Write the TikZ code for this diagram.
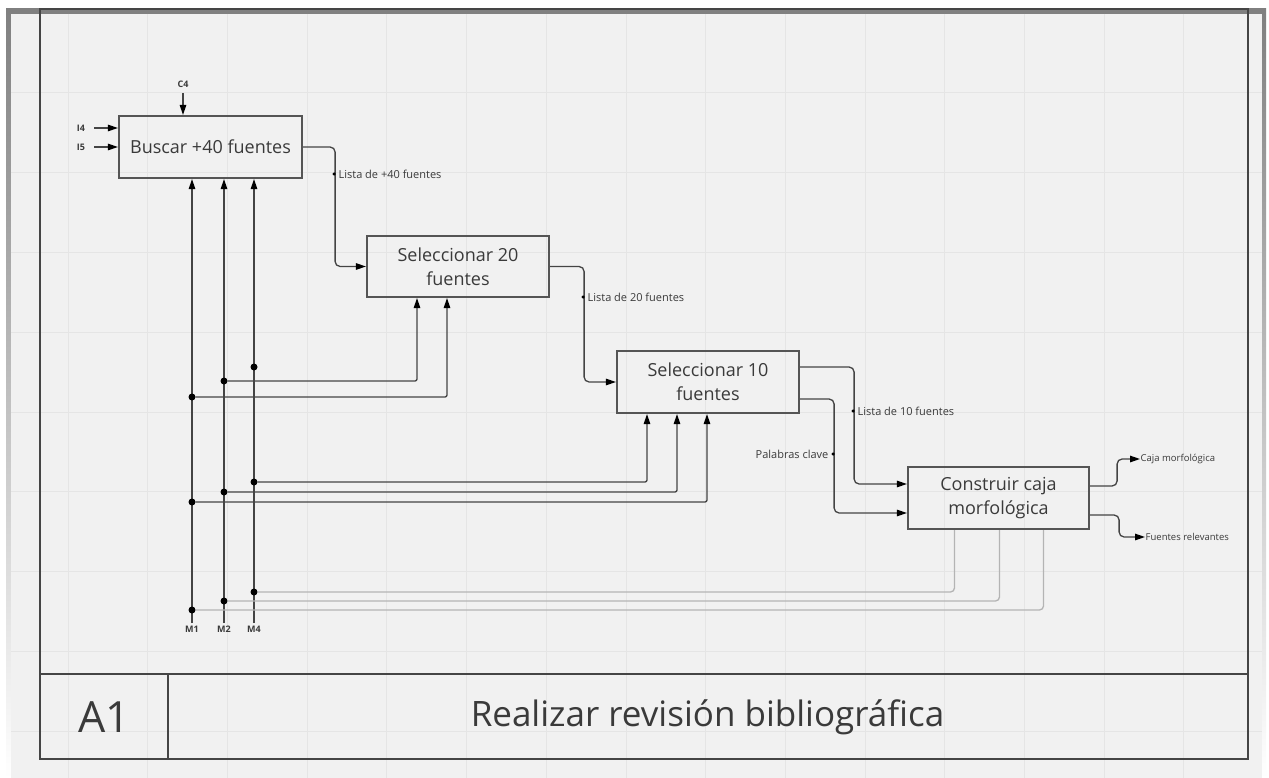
\documentclass[tikz,border=0pt]{standalone}
\usepackage{fontspec}
\setmainfont{Open Sans}
\usetikzlibrary{arrows.meta}

\definecolor{pagebg}{HTML}{F1F1F1}
\definecolor{shade}{HTML}{ECECEC}
\definecolor{gridc}{HTML}{E5E5E5}
\definecolor{framec}{HTML}{454545}
\definecolor{boxc}{HTML}{555555}
\definecolor{ink}{HTML}{444444}
\definecolor{softink}{HTML}{B4B4B4}
\definecolor{txt}{HTML}{3A3A3A}

\tikzset{
  box/.style={draw=boxc, line width=2.2pt, align=center, inner sep=0pt,
    font=\fontsize{18}{24}\selectfont, text=txt},
  tip/.style={-{Triangle[length=10pt,width=6.5pt,color=black]}},
  conn/.style={draw=ink, line width=1.3pt, rounded corners=5pt},
  arr/.style={conn, tip},
  feed/.style={draw=ink, line width=1.3pt, rounded corners=2pt, tip},
  softline/.style={draw=softink, line width=1.3pt, rounded corners=4pt},
  jdot/.style={circle, fill=black, inner sep=0pt, minimum size=7pt},
  ldot/.style={circle, fill=black, inner sep=0pt, minimum size=3.5pt},
  lbl/.style={font=\fontsize{11}{13}\selectfont, text=txt, inner sep=0.5pt},
  outlbl/.style={font=\fontsize{9.5}{11}\selectfont, text=txt, inner sep=0.5pt},
  tag/.style={font=\fontsize{9}{10}\selectfont\bfseries, text=txt, inner sep=0pt},
  gridline/.style={draw=gridc, line width=0.8pt},
  framel/.style={draw=framec, line width=2pt},
}

\begin{document}
\begin{tikzpicture}[x=1pt,y=-1pt]
\useasboundingbox (0,0) rectangle (1269,778);

% sheet with its shadow
\fill[white] (0,0) rectangle (1269,778);
\fill[shade] (6,9) rectangle (1266,778);
\fill[pagebg] (11,14) rectangle (1262,778);

% background grid
\foreach \i in {0,...,14}
  \draw[gridline] ({68+79.7*\i},14) -- ++(0,764);
\foreach \j in {1,...,9}
  \draw[gridline] (11,{13+79.8*\j}) -- ++(1251,0);

% drawing frame and title block
\draw[framel] (39.5,9) rectangle (1248,759);
\draw[framel, line width=2.6pt] (39.5,674) -- (1248,674);
\draw[draw=framec, line width=1.3pt] (168,674) -- (168,759);
\node[font=\fontsize{43}{45}\selectfont, text=txt] (a1) at (104,717) {A1};
\node[font=\fontsize{35}{40}\selectfont, text=txt] (title) at (707.5,717) {Realizar revisión bibliográfica};

% activities
\node[box, minimum width=183pt, minimum height=62pt] (b1) at (210.5,147) {Buscar +40 fuentes};
\node[box, minimum width=182pt, minimum height=61pt] (b2) at (458,266.5) {Seleccionar 20\\fuentes};
\node[box, minimum width=182pt, minimum height=62pt] (b3) at (708,382) {Seleccionar 10\\fuentes};
\node[box, minimum width=181pt, minimum height=62pt] (b4) at (998.5,498) {Construir caja\\morfológica};

% control and inputs of the first activity
\coordinate (c4) at (183,93);
\node[tag, anchor=south] (c4l) at (183,88) {C4};
\draw[arr] (c4) -- (c4 |- b1.north);
\coordinate (i4) at (94,128);
\coordinate (i5) at (94,147);
\node[tag] (i4l) at (81,128) {I4};
\node[tag] (i5l) at (81,147) {I5};
\draw[arr] (i4) -- (i4 -| b1.west);
\draw[arr] (i5) -- (i5 -| b1.west);

% flow between activities
\draw[arr] (b1.east) -- ++(32,0) |- (b2.west);
\node[ldot] (d1) at (334,174) {};
\node[lbl, anchor=west] (l1) at ([xshift=2pt]d1.east) {Lista de +40 fuentes};

\draw[arr] (b2.east) -- ++(34,0) |- (b3.west);
\node[ldot] (d2) at (583,297) {};
\node[lbl, anchor=west] (l2) at ([xshift=2pt]d2.east) {Lista de 20 fuentes};

\draw[arr] ([yshift=15pt]b3.east) -- ++(54,0) |- ([yshift=14pt]b4.west);
\node[ldot] (d3) at (853,411) {};
\node[lbl, anchor=west] (l3) at ([xshift=2pt]d3.east) {Lista de 10 fuentes};

\draw[arr] ([yshift=-17pt]b3.east) -- ++(34,0) |- ([yshift=-15pt]b4.west);
\node[ldot] (d4) at (833,454) {};
\node[lbl, anchor=east] (l4) at ([xshift=-2pt]d4.west) {Palabras clave};

% outputs
\coordinate (o1) at (1140,459);
\coordinate (o2) at (1145,537);
\draw[arr] ([yshift=12pt]b4.east) -- ++(27,0) |- (o1);
\draw[arr] ([yshift=-17pt]b4.east) -- ++(29,0) |- (o2);
\node[outlbl, anchor=west] (ol1) at (o1) {Caja morfológica};
\node[outlbl, anchor=west] (ol2) at (o2) {Fuentes relevantes};

% mechanisms
\coordinate (m1) at (192,623);
\coordinate (m2) at (224,623);
\coordinate (m4) at (254,623);
\node[tag, anchor=north] (m1l) at ([yshift=-3pt]m1) {M1};
\node[tag, anchor=north] (m2l) at ([yshift=-3pt]m2) {M2};
\node[tag, anchor=north] (m4l) at ([yshift=-3pt]m4) {M4};
\draw[arr] (m1) -- (m1 |- b1.south);
\draw[arr] (m2) -- (m2 |- b1.south);
\draw[arr] (m4) -- (m4 |- b1.south);

% branches to the second activity
\node[jdot] (j24) at (254,367) {};
\node[jdot] (j22) at (224,381) {};
\node[jdot] (j21) at (192,397) {};
\draw[feed] (j22) -| ([xshift=-41pt]b2.south);
\draw[feed] (j21) -| ([xshift=-11pt]b2.south);

% branches to the third activity
\node[jdot] (j34) at (254,482) {};
\node[jdot] (j32) at (224,492) {};
\node[jdot] (j31) at (192,502) {};
\draw[feed] (j34) -| ([xshift=-61pt]b3.south);
\draw[feed] (j32) -| ([xshift=-31pt]b3.south);
\draw[feed] (j31) -| ([xshift=-1pt]b3.south);

% branches to the fourth activity
\node[jdot] (j44) at (254,592) {};
\node[jdot] (j42) at (224,601) {};
\node[jdot] (j41) at (192,610) {};
\draw[softline] (j44) -| ([xshift=-44pt]b4.south);
\draw[softline] (j42) -| ([xshift=1pt]b4.south);
\draw[softline] (j41) -| ([xshift=45pt]b4.south);
\end{tikzpicture}
\end{document}
